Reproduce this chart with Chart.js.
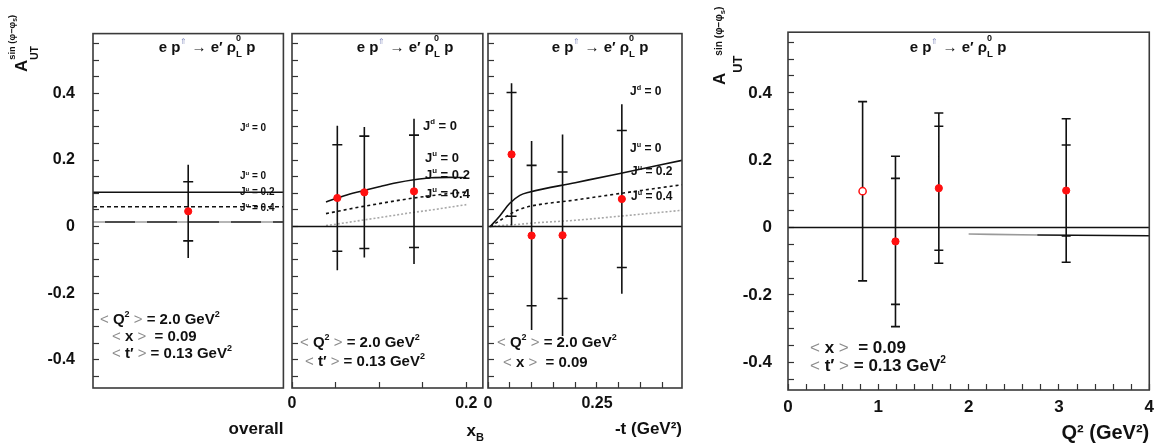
<!DOCTYPE html>
<html>
<head>
<meta charset="utf-8">
<title>A_UT sin(phi - phi_s), rho0 L</title>
<script src="https://cdn.jsdelivr.net/npm/chart.js@4.4.1/dist/chart.umd.min.js"></script>
<style>
  html, body { margin: 0; padding: 0; background: #fff; }
  #wrap { position: relative; width: 1167px; height: 445px; overflow: hidden; }
  .pane { position: absolute; top: 0; height: 445px; }
</style>
</head>
<body>
<div id="wrap">
  <div class="pane" style="left:0px;width:290px"><canvas id="cAll"></canvas></div>
  <div class="pane" style="left:270px;width:220px"><canvas id="cXb"></canvas></div>
  <div class="pane" style="left:470px;width:220px"><canvas id="cT"></canvas></div>
  <div class="pane" style="left:700px;width:467px"><canvas id="cQ"></canvas></div>
</div>
<script>
// ---- overall bin
const allX = [0.5];
const allA = [0.046];
const allStat = [0.089];
const allTot = [0.14];
const allJu0 = 0.103;
const allJu02 = 0.06;
const allJu04 = 0.014;

// ---- x_B bins
const xbX = [0.052, 0.083, 0.14];
const xbA = [0.086, 0.103, 0.106];
const xbStat = [0.160, 0.169, 0.169];
const xbTot = [0.217, 0.196, 0.218];
const xbCurveX = [0.039, 0.06, 0.08, 0.1, 0.12, 0.14, 0.16, 0.18, 0.2];
const xbJu0 = [0.074, 0.093, 0.107, 0.12, 0.132, 0.141, 0.147, 0.148, 0.147];
const xbJu02 = [0.039, 0.05, 0.06, 0.069, 0.078, 0.086, 0.093, 0.099, 0.104];
const xbJu04 = [0.003, 0.011, 0.019, 0.027, 0.035, 0.043, 0.05, 0.058, 0.066];

// ---- -t bins
const tX = [0.054, 0.100, 0.171, 0.307];
const tA = [0.217, -0.027, -0.026, 0.083];
const tStat = [0.186, 0.211, 0.190, 0.206];
const tTot = [0.214, 0.284, 0.303, 0.285];
const tCurveX = [0.005, 0.027, 0.05, 0.073, 0.096, 0.2, 0.3, 0.445];
const tJu0 = [0, 0.032, 0.07, 0.094, 0.104, 0.132, 0.159, 0.199];
const tJu02 = [0, 0.018, 0.037, 0.052, 0.061, 0.080, 0.099, 0.126];
const tJu04 = [0, 0.003, 0.005, 0.007, 0.010, 0.019, 0.031, 0.049];

// ---- Q^2 bins (first one drawn open)
const qX = [0.826, 1.19, 1.67, 3.08];
const qA = [0.108, -0.041, 0.117, 0.110];
const qStat = [null, 0.187, 0.184, 0.135];
const qTot = [0.266, 0.253, 0.223, 0.213];
const qOpen = [true, false, false, false];
const qLineX = [2.0, 2.76, 4.0];
const qLineY = [-0.019, -0.022, -0.024];

const F = "'Liberation Sans', Arial, Helvetica, sans-serif";
const INK = '#111';
const RED = '#ff1010';
const GRAY = '#8c8c8c';

function font(size, weight) {
    return (weight || 'bold') + ' ' + size + 'px ' + F;
}

// draw a run of text pieces, each with its own size / raise
function drawRich(ctx, x, y, parts, base, align) {
    let w = 0;
    const adv = parts.map(p => {
        ctx.font = font((p.s || 1) * base, p.w);
        const a = p.keep ? 0 : ctx.measureText(p.t).width;
        w += a;
        return a;
    });
    let cx = align === 'center' ? x - w / 2 : align === 'right' ? x - w : x;
    parts.forEach((p, i) => {
        ctx.font = font((p.s || 1) * base, p.w);
        ctx.fillStyle = p.c || INK;
        ctx.fillText(p.t, cx, y + (p.dy || 0) * base);
        cx += adv[i];
    });
}

function notes(left, items) {
    return {
        id: 'notes',
        afterDraw(chart) {
            const ctx = chart.ctx;
            items.forEach(it => {
                ctx.save();
                ctx.textBaseline = 'alphabetic';
                ctx.translate(it.x - left, it.y);
                if (it.rot) ctx.rotate(-Math.PI / 2);
                drawRich(ctx, 0, 0, it.parts, it.size, it.align);
                ctx.restore();
            });
        }
    };
}

const frame = {
    id: 'frame',
    afterDatasetsDraw(chart) {
        const {left, top, right, bottom} = chart.chartArea;
        const ctx = chart.ctx;
        ctx.save();
        ctx.strokeStyle = '#3a3a3a';
        ctx.lineWidth = 1.6;
        ctx.strokeRect(left, top, right - left, bottom - top);
        ctx.restore();
    }
};

// text pieces
const sup = t => ({t: t, s: 0.6, dy: -0.45});
const grey = t => ({t: t, w: 'normal', c: GRAY});
const reaction = [{t: 'e p'}, {t: '⇑', s: 0.55, dy: -0.55, c: '#8890c0', w: 'normal'},
    {t: ' → e′ ρ'}, {t: '0', s: 0.6, dy: -0.75, keep: true}, {t: 'L', s: 0.65, dy: 0.3}, {t: ' p'}];
const q2Txt = [grey('< '), {t: 'Q'}, sup('2'), grey(' > '), {t: '= 2.0 GeV'}, sup('2')];
const xTxt = [grey('< '), {t: 'x'}, grey(' > '), {t: ' = 0.09'}];
const tTxt = [grey('< '), {t: 't′'}, grey(' > '), {t: '= 0.13 GeV'}, sup('2')];
const jTxt = (q, v) => [{t: 'J'}, sup(q), {t: ' = ' + v}];
const yTitle = [{t: 'A'}, {t: 'UT', s: 0.6, dy: 0.62, keep: true}, {t: 'sin (φ−φ', s: 0.55, dy: -0.7},
    {t: 's', s: 0.4, dy: -0.6}, {t: ')', s: 0.55, dy: -0.7}];
const yTitleQ = [{t: 'A'}, {t: 'UT', s: 0.75, dy: 1.0}, {t: 'sin (φ−φ', s: 0.6, dy: -0.15},
    {t: 's', s: 0.45, dy: 0}, {t: ')', s: 0.6, dy: -0.15}];

// datasets
function curveSet(xs, ys, color, width, dash, order) {
    return {
        data: xs.map((x, i) => ({x: x, y: ys[i]})),
        showLine: true, borderColor: color, borderWidth: width, borderDash: dash || [],
        pointRadius: 0, cubicInterpolationMode: 'monotone', order: order || 6
    };
}
function flatSet(x0, x1, y, color, width, dash, order) {
    return curveSet([x0, x1], [y, y], color, width, dash, order);
}
function barSet(xs, ys, err) {
    const d = [];
    xs.forEach((x, i) => {
        d.push({x: x, y: ys[i] - err[i]}, {x: x, y: ys[i] + err[i]}, {x: x, y: null});
    });
    return {data: d, showLine: true, spanGaps: false, borderColor: INK, borderWidth: 1.6, pointRadius: 0, order: 3};
}
function tickSet(xs, ys, err, r) {
    const d = [];
    xs.forEach((x, i) => {
        if (err[i] == null) return;
        d.push({x: x, y: ys[i] - err[i]}, {x: x, y: ys[i] + err[i]});
    });
    return {data: d, showLine: false, pointStyle: 'line', pointRadius: r,
        pointBorderColor: INK, pointBorderWidth: 1.6, order: 2};
}
function pointSet(xs, ys, open) {
    return {
        data: xs.map((x, i) => ({x: x, y: ys[i]})), showLine: false, pointStyle: 'circle', pointRadius: 3.6,
        pointBackgroundColor: xs.map((x, i) => open && open[i] ? '#fff' : RED),
        pointBorderColor: RED, pointBorderWidth: xs.map((x, i) => open && open[i] ? 1.5 : 1), order: 0
    };
}

// axes
function yScale(min, max, width, pad, size, labels) {
    return {
        type: 'linear', position: 'left', min: min, max: max,
        afterFit: s => { s.width = width; },
        ticks: {
            stepSize: 0.05, includeBounds: false, autoSkip: false, padding: pad, color: INK,
            font: {family: F, size: size, weight: 'bold'},
            callback: v => labels && Math.round(v * 100) % 20 === 0 ? (Math.round(v * 100) === 0 ? '0' : v.toFixed(1)) : ''
        },
        grid: {drawOnChartArea: false, tickLength: -6, tickColor: '#333', tickWidth: 1.2},
        border: {display: false}
    };
}
function xScale(min, max, step, labelVals, height, pad, size, title) {
    const sc = {
        type: 'linear', position: 'bottom', min: min, max: max,
        afterFit: s => { s.height = height; },
        ticks: {
            stepSize: step, includeBounds: false, autoSkip: false, maxRotation: 0, padding: pad, color: INK,
            font: {family: F, size: size, weight: 'bold'},
            callback: v => {
                const hit = labelVals.find(l => Math.abs(l - v) < 1e-9);
                return hit === undefined ? '' : String(hit);
            }
        },
        grid: {drawOnChartArea: false, tickLength: -6, tickColor: '#333', tickWidth: 1.2},
        border: {display: false},
        title: {display: false}
    };
    if (!labelVals.length) {
        sc.ticks.display = false;
        sc.grid.display = false;
    }
    if (title) {
        sc.title = {display: true, text: title.text, align: 'end', color: INK,
            font: {family: F, size: title.size, weight: 'bold'}, padding: {top: 0, bottom: title.pb}};
    }
    return sc;
}
function opts(padding, x, y) {
    return {
        responsive: true, maintainAspectRatio: false, animation: false, events: [],
        layout: {padding: padding},
        plugins: {legend: {display: false}, tooltip: {enabled: false}},
        scales: {x: x, y: y}
    };
}

const yMin = -0.485, yMax = 0.58;

// overall panel
new Chart(document.getElementById('cAll'), {
    type: 'scatter',
    data: {datasets: [
        pointSet(allX, allA),
        tickSet(allX, allA, allStat, 5),
        barSet(allX, allA, allTot),
        flatSet(0, 1, allJu0, INK, 1.5),
        flatSet(0, 1, allJu02, INK, 1.5, [4, 3]),
        flatSet(0, 1, allJu04, INK, 1.5),
        flatSet(0, 1, allJu04, '#d8d8d8', 1.5, [12, 30], 5)
    ]},
    options: opts({top: 15, right: 2, left: 0, bottom: 0},
        xScale(0, 1, 1, [], 57, 0, 16, {text: 'overall', size: 17, pb: 5}),
        yScale(yMin, yMax, 93, 24, 16, true)),
    plugins: [frame, notes(0, [
        {x: 27, y: 72, rot: true, parts: yTitle, size: 17},
        {x: 207, y: 52, parts: reaction, size: 15, align: 'center'},
        {x: 240, y: 131, parts: jTxt('d', '0'), size: 10},
        {x: 240, y: 179, parts: jTxt('u', '0'), size: 10},
        {x: 240, y: 195, parts: jTxt('u', '0.2'), size: 10},
        {x: 240, y: 211, parts: jTxt('u', '0.4'), size: 10},
        {x: 100, y: 324, parts: q2Txt, size: 15},
        {x: 112, y: 341, parts: xTxt, size: 15},
        {x: 112, y: 358, parts: tTxt, size: 15}
    ])]
});

// x_B panel
new Chart(document.getElementById('cXb'), {
    type: 'scatter',
    data: {datasets: [
        pointSet(xbX, xbA),
        tickSet(xbX, xbA, xbStat, 5),
        barSet(xbX, xbA, xbTot),
        flatSet(0, 0.219, 0, INK, 1.5),
        curveSet(xbCurveX, xbJu0, INK, 1.6),
        curveSet(xbCurveX, xbJu02, INK, 1.6, [3, 3]),
        curveSet(xbCurveX, xbJu04, '#a8a8a8', 1.6, [2, 2])
    ]},
    options: opts({top: 15, right: 5, left: 0, bottom: 0},
        xScale(0, 0.219, 0.05, [0, 0.2], 57, 12, 16, null),
        yScale(yMin, yMax, 22, 24, 16, false)),
    plugins: [frame, notes(270, [
        {x: 405, y: 52, parts: reaction, size: 15, align: 'center'},
        {x: 423, y: 130, parts: jTxt('d', '0'), size: 13},
        {x: 425, y: 162, parts: jTxt('u', '0'), size: 13},
        {x: 425, y: 179, parts: jTxt('u', '0.2'), size: 13},
        {x: 425, y: 198, parts: jTxt('u', '0.4'), size: 13},
        {x: 300, y: 347, parts: q2Txt, size: 15},
        {x: 305, y: 366, parts: tTxt, size: 15},
        {x: 484, y: 436, parts: [{t: 'x'}, {t: 'B', s: 0.65, dy: 0.3}], size: 17, align: 'right'}
    ])]
});

// -t panel
new Chart(document.getElementById('cT'), {
    type: 'scatter',
    data: {datasets: [
        pointSet(tX, tA),
        tickSet(tX, tA, tStat, 5),
        barSet(tX, tA, tTot),
        flatSet(0, 0.445, 0, INK, 1.5),
        curveSet(tCurveX, tJu0, INK, 1.6),
        curveSet(tCurveX, tJu02, INK, 1.6, [3, 3]),
        curveSet(tCurveX, tJu04, '#a8a8a8', 1.6, [2, 2])
    ]},
    options: opts({top: 15, right: 8, left: 0, bottom: 0},
        xScale(0, 0.445, 0.05, [0, 0.25], 57, 12, 16, {text: '-t (GeV²)', size: 17, pb: 5}),
        yScale(yMin, yMax, 18, 24, 16, false)),
    plugins: [frame, notes(470, [
        {x: 600, y: 52, parts: reaction, size: 15, align: 'center'},
        {x: 630, y: 95, parts: jTxt('d', '0'), size: 12},
        {x: 630, y: 152, parts: jTxt('u', '0'), size: 12},
        {x: 631, y: 175, parts: jTxt('u', '0.2'), size: 12},
        {x: 631, y: 200, parts: jTxt('u', '0.4'), size: 12},
        {x: 497, y: 347, parts: q2Txt, size: 15},
        {x: 503, y: 367, parts: xTxt, size: 15}
    ])]
});

// Q^2 panel
new Chart(document.getElementById('cQ'), {
    type: 'scatter',
    data: {datasets: [
        pointSet(qX, qA, qOpen),
        tickSet(qX, qA, qStat, 4.5),
        tickSet(qX, qA, qTot, 4.5),
        barSet(qX, qA, qTot),
        flatSet(0, 4, 0, INK, 1.5),
        Object.assign(curveSet(qLineX, qLineY, INK, 1.6), {
            segment: {borderColor: c => c.p0DataIndex === 0 ? '#9a9a9a' : INK}
        })
    ]},
    options: opts({top: 14, right: 6, left: 0, bottom: 0},
        xScale(0, 4, 0.2, [0, 1, 2, 3, 4], 55, 13, 17, {text: 'Q² (GeV²)', size: 20, pb: 0}),
        yScale(-0.482, 0.58, 88, 22, 17, true)),
    plugins: [frame, notes(700, [
        {x: 725, y: 85, rot: true, parts: yTitleQ, size: 17},
        {x: 958, y: 52, parts: reaction, size: 15, align: 'center'},
        {x: 810, y: 353, parts: xTxt, size: 17},
        {x: 810, y: 371, parts: tTxt, size: 17}
    ])]
});
</script>
</body>
</html>
